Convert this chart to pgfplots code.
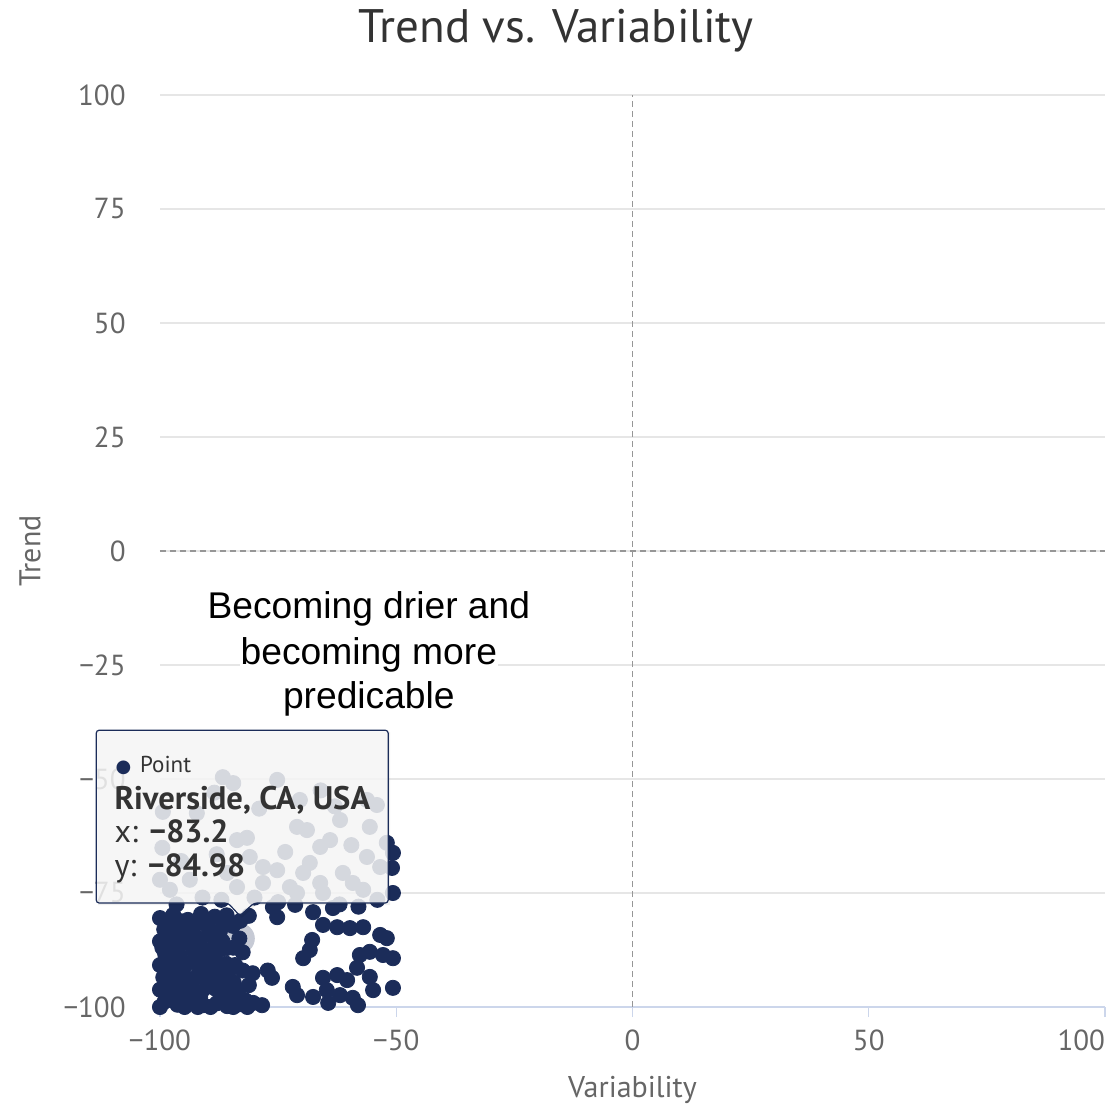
\documentclass[border=0pt]{standalone}
\usepackage{pgfplots}
\pgfplotsset{compat=1.18}
\usepackage{fontspec}
\setmainfont{PT Sans}
\newfontfamily\arialf{Liberation Sans}
\newfontfamily\dejavu{DejaVu Sans}
\definecolor{navy}{RGB}{27,44,89}
\definecolor{gridc}{RGB}{230,230,230}
\definecolor{axisc}{RGB}{204,214,235}
\definecolor{tickc}{RGB}{102,102,102}
\definecolor{dashc}{RGB}{150,150,150}
\definecolor{c333}{RGB}{51,51,51}
\definecolor{tipbg}{RGB}{247,247,247}
\begin{document}
\begin{tikzpicture}
\useasboundingbox (-80pt,-48.5pt) rectangle (474.5pt,503.5pt);
\begin{axis}[
  at={(0,0)}, anchor=south west,
  scale only axis, width=472.5pt, height=456pt,
  xmin=-100, xmax=100, ymin=-100, ymax=100,
  clip=false,
  axis x line*=bottom, axis y line*=left,
  x axis line style={draw=axisc, line width=0.6pt, -},
  y axis line style={draw=none, -},
  xtick={-100,-50,0,50,100},
  xticklabels={−100,−50,0,50,\makebox[0pt][r]{100}},
  ytick={-100,-75,-50,-25,0,25,50,75,100},
  yticklabels={−100,−75,−50,−25,0,25,50,75,100},
  tick align=outside,
  xtick style={draw=axisc, line width=0.6pt},
  ytick style={draw=none},
  major tick length=5pt,
  ymajorgrids, grid style={draw=gridc, line width=0.6pt},
  ticklabel style={font=\fontsize{14.5}{16}\selectfont, text=tickc},
  xticklabel style={anchor=north, inner sep=0pt, yshift=-6pt},
  yticklabel style={anchor=east, inner sep=0pt, xshift=-12pt},
  xlabel={Variability}, ylabel={Trend},
  label style={font=\fontsize{15}{17}\selectfont, text=tickc},
  xlabel style={at={(axis description cs:0.5,-0.0987)}, anchor=base},
  ylabel style={at={(axis description cs:-0.1376,0.5)}, anchor=center},
]
% reference lines
\draw[dashc, line width=0.6pt, dash pattern=on 3pt off 2pt] (axis cs:0,-100) -- (axis cs:0,100);
\draw[dashc, line width=0.6pt, dash pattern=on 3pt off 2pt] (axis cs:-100,0) -- (axis cs:100,0);
% hover halo
\addplot[only marks, mark=*, mark size=7.5pt, color=navy!25] coordinates {(-83.2,-84.98)};
% points
\addplot[only marks, mark=*, mark size=3.8pt, color=navy] coordinates {
(-86.7,-49.6) (-84.5,-50.9) (-75.2,-50.2) (-56.2,-54.6) (-54.1,-55.7)
(-71.0,-60.5) (-68.9,-61.2) (-61.9,-59.0) (-55.6,-60.5) (-81.6,-62.9)
(-83.7,-63.4) (-99.5,-65.1) (-64.0,-63.4) (-66.1,-64.9) (-56.2,-67.1)
(-53.4,-69.3) (-81.0,-67.1) (-78.2,-69.3) (-75.2,-70.0) (-69.7,-70.6)
(-68.3,-68.4) (-100,-72.1) (-97.9,-74.3) (-93.7,-72.1) (-61.3,-70.6)
(-59.2,-72.8) (-57.0,-74.3) (-66.1,-72.8) (-65.5,-75.0) (-72.5,-73.7)
(-71.0,-75.0) (-85.8,-70.6) (-83.7,-73.7) (-78.2,-72.8) (-99.4,-57.2)
(-92.2,-57.5) (-70.4,-54.6) (-63.0,-56.0) (-52.0,-64.0) (-91.0,-76.0)
(-87.0,-76.5) (-80.0,-76.0) (-75.0,-77.0) (-62.0,-77.5) (-58.0,-78.0)
(-88.5,-53.0) (-79.0,-56.5) (-66.0,-52.5) (-59.5,-64.5) (-95.5,-68.0)
(-88.0,-66.5) (-73.5,-66.0) (-54.0,-76.5) (-96.5,-77.5)
(-50.7,-66.2) (-50.9,-69.5) (-50.7,-75.0) (-76.1,-78.1) (-75.2,-80.3)
(-71.4,-77.6) (-67.6,-79.2) (-63.4,-78.3) (-65.5,-82.0) (-62.5,-82.5)
(-59.8,-82.7) (-57.0,-82.5) (-53.4,-84.2) (-52.0,-84.9) (-67.8,-85.3)
(-68.3,-87.5) (-69.7,-89.3) (-57.7,-88.6) (-55.6,-87.9) (-52.8,-88.6)
(-50.7,-89.3) (-58.3,-91.4) (-77.2,-92.0) (-76.3,-93.6) (-65.5,-93.6)
(-62.5,-93.0) (-60.4,-94.1) (-55.6,-93.4) (-54.9,-96.3) (-71.9,-95.6)
(-71.0,-97.4) (-67.6,-97.8) (-64.4,-99.1) (-61.9,-97.4) (-59.2,-98.0)
(-58.1,-99.6) (-50.7,-95.8) (-64.7,-96.3) (-78.4,-99.6) (-80.3,-99.1)
(-82.0,-98.5) (-81.2,-95.2) (-80.4,-92.6)
(-100,-80.5) (-97.2,-79.8) (-94.1,-80.9) (-91.3,-79.6) (-88.4,-80.2)
(-85.9,-79.9) (-83.0,-81.1) (-99.1,-83.0) (-96.0,-82.4) (-93.2,-83.6)
(-90.1,-82.1) (-87.3,-83.3) (-84.6,-82.2) (-100,-85.6) (-97.4,-86.0)
(-94.3,-85.2) (-91.5,-86.3) (-88.2,-85.4) (-86.0,-87.1) (-98.9,-88.4)
(-95.8,-88.9) (-92.9,-87.8) (-90.0,-89.2) (-88.6,-90.0) (-100,-90.8)
(-97.1,-91.3) (-94.2,-90.5) (-91.4,-92.0) (-88.3,-92.5) (-84.1,-90.8)
(-82.5,-88.0) (-99.3,-93.5) (-96.2,-93.9) (-93.0,-94.2) (-90.2,-93.8)
(-86.9,-93.3) (-84.4,-94.6) (-100,-96.2) (-97.3,-96.7) (-94.4,-95.8)
(-91.2,-96.6) (-88.1,-96.1) (-85.3,-97.3) (-99.0,-98.8) (-96.3,-99.5)
(-93.5,-98.7) (-90.8,-99.6) (-88.0,-99.2) (-85.8,-99.8) (-83.2,-99.4)
(-100,-100) (-92.0,-100) (-81.2,-80.0)
(-98.5,-81.5) (-95.5,-81.2) (-92.5,-81.8) (-89.5,-81.0) (-86.5,-81.5)
(-98.0,-84.5) (-95.0,-84.0) (-92.0,-84.8) (-89.5,-84.2) (-86.8,-85.6)
(-99.5,-87.0) (-96.5,-87.2) (-93.5,-86.5) (-90.5,-87.5) (-88.0,-88.0) (-84.5,-87.0)
(-98.0,-90.0) (-95.5,-91.5) (-92.5,-89.5) (-90.0,-91.0) (-86.0,-90.5) (-82.5,-92.0)
(-98.5,-92.5) (-95.0,-92.8) (-92.0,-93.0) (-88.5,-94.5) (-85.5,-92.5)
(-98.5,-95.0) (-95.8,-97.0) (-93.0,-96.5) (-89.5,-95.5) (-86.5,-95.0) (-83.5,-96.5)
(-97.8,-98.0) (-94.8,-100) (-91.5,-98.0) (-89.3,-100) (-86.8,-98.0) (-84.5,-100) (-81.5,-100)
(-83.2,-84.98)
};
% annotation
\node[font=\arialf\fontsize{18.6}{20}\selectfont, inner sep=0pt] at (axis cs:-55.8,-12.7) {Becoming drier and};
\node[font=\arialf\fontsize{18.6}{20}\selectfont, inner sep=0.5pt, fill=white] at (axis cs:-55.8,-22.8) {becoming more};
\node[font=\arialf\fontsize{18.6}{20}\selectfont, inner sep=0pt] at (axis cs:-55.8,-32.5) {predicable};
% tooltip anchors
\coordinate (ta) at (axis cs:-113.5,-39.3);
\coordinate (tb) at (axis cs:-51.7,-39.3);
\coordinate (tc) at (axis cs:-51.7,-77.2);
\coordinate (td) at (axis cs:-80.1,-77.2);
\coordinate (te) at (axis cs:-83.1,-80.0);
\coordinate (tf) at (axis cs:-85.6,-77.2);
\coordinate (tg) at (axis cs:-113.5,-77.2);
\coordinate (l1) at (axis cs:-109.5,-48.5);
\coordinate (l2) at (axis cs:-109.7,-56.6);
\coordinate (l3) at (axis cs:-109.7,-64.0);
\coordinate (l4) at (axis cs:-109.7,-71.4);
\end{axis}
\fill[black, opacity=0.06] ([shift={(1pt,-1pt)}]ta) -- ([shift={(1pt,-1pt)}]tb) -- ([shift={(1pt,-1pt)}]tc) -- ([shift={(1pt,-1pt)}]td) -- ([shift={(1pt,-1pt)}]te) -- ([shift={(1pt,-1pt)}]tf) -- ([shift={(1pt,-1pt)}]tg) -- cycle;
\filldraw[fill=tipbg, fill opacity=0.85, draw=navy, line width=0.6pt, rounded corners=1.5pt]
  (ta) -- (tb) -- (tc) -- (td) -- (te) -- (tf) -- (tg) -- cycle;
\node[anchor=base west, inner sep=0pt, text=c333, font=\fontsize{11.5}{13}\selectfont] at (l1) {\textcolor{navy}{\dejavu\fontsize{9}{9}\selectfont ●}\hspace{4.5pt}Point};
\node[anchor=base west, inner sep=0pt, text=c333, font=\bfseries\fontsize{16.3}{18}\selectfont] at (l2) {Riverside, CA, USA};
\node[anchor=base west, inner sep=0pt, text=c333, font=\fontsize{16}{18}\selectfont] at (l3) {x: \textbf{−83.2}};
\node[anchor=base west, inner sep=0pt, text=c333, font=\fontsize{16}{18}\selectfont] at (l4) {y: \textbf{−84.98}};
\node[anchor=base, font=\fontsize{23.5}{26}\selectfont, text=c333] at (198pt,482pt) {Trend vs. Variability};
\end{tikzpicture}
\end{document}
